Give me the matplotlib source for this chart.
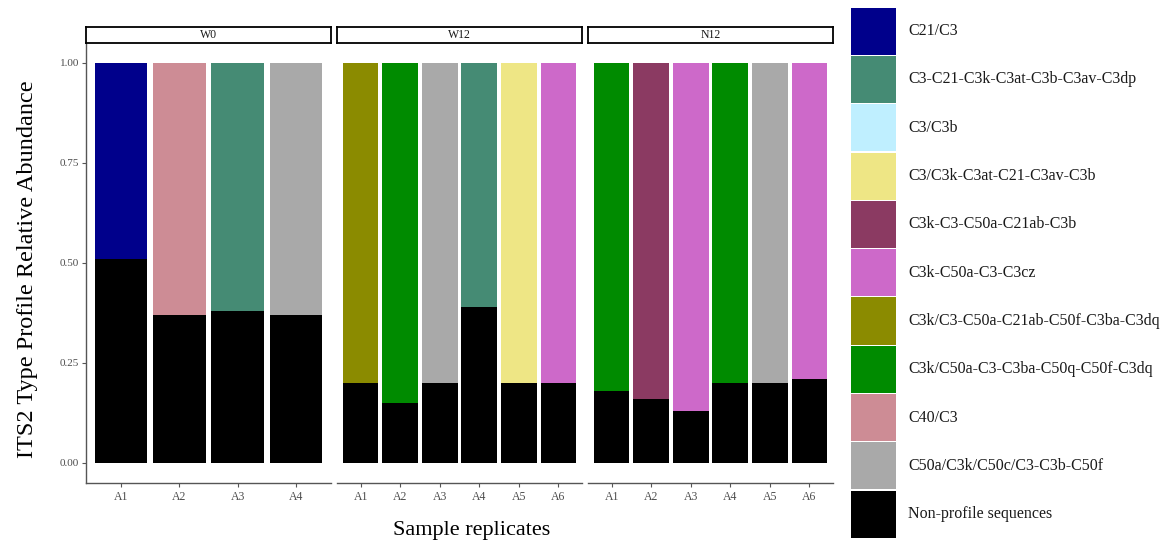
import matplotlib
matplotlib.use("Agg")
import matplotlib.pyplot as plt
from matplotlib.patches import Rectangle

plt.rcParams['font.family'] = ['Liberation Serif', 'DejaVu Serif']

# ---------------- data ----------------
profiles = [
    "C21/C3",
    "C3-C21-C3k-C3at-C3b-C3av-C3dp",
    "C3/C3b",
    "C3/C3k-C3at-C21-C3av-C3b",
    "C3k-C3-C50a-C21ab-C3b",
    "C3k-C50a-C3-C3cz",
    "C3k/C3-C50a-C21ab-C50f-C3ba-C3dq",
    "C3k/C50a-C3-C3ba-C50q-C50f-C3dq",
    "C40/C3",
    "C50a/C3k/C50c/C3-C3b-C50f",
    "Non-profile sequences",
]
profile_colors = [
    "#00008B", "#458B74", "#BFEFFF", "#EEE685", "#8B3A62", "#CD69C9",
    "#8B8B00", "#008B00", "#CD8C95", "#A9A9A9", "#000000",
]

groups = ["W0", "W12", "N12"]
w0_samples = ["A1", "A2", "A3", "A4"]
w12_samples = ["A1", "A2", "A3", "A4", "A5", "A6"]
n12_samples = ["A1", "A2", "A3", "A4", "A5", "A6"]

# non-profile fraction (bottom, black) per sample
w0_nonprofile = [0.51, 0.37, 0.38, 0.37]
w12_nonprofile = [0.20, 0.15, 0.20, 0.39, 0.20, 0.20]
n12_nonprofile = [0.18, 0.16, 0.13, 0.20, 0.20, 0.21]

# dominant profile (index into profiles) per sample
w0_profile = [0, 8, 1, 9]
w12_profile = [6, 7, 9, 1, 3, 5]
n12_profile = [7, 4, 5, 7, 9, 5]

group_samples = [w0_samples, w12_samples, n12_samples]
group_nonprofile = [w0_nonprofile, w12_nonprofile, n12_nonprofile]
group_profile = [w0_profile, w12_profile, n12_profile]

# ---------------- figure ----------------
W, H = 1169, 549
fig = plt.figure(figsize=(W / 100, H / 100), dpi=100)

def ax_px(x0, y0, x1, y1):
    return fig.add_axes([x0 / W, 1 - y1 / H, (x1 - x0) / W, (y1 - y0) / H])

panel_x = [(86, 331), (337, 582), (588, 833)]
ptop, pbot = 43, 483
strip_top = 27
tick_color = "#4D4D4D"
axis_color = "#555555"

for gi, (x0, x1) in enumerate(panel_x):
    ax = ax_px(x0, ptop, x1, pbot)
    samples = group_samples[gi]
    n = len(samples)
    xs = list(range(n))
    nonp = group_nonprofile[gi]
    prof = group_profile[gi]
    rest = [1 - v for v in nonp]
    ax.bar(xs, nonp, width=0.9, color="#000000", edgecolor="none")
    ax.bar(xs, rest, bottom=nonp, width=0.9,
           color=[profile_colors[p] for p in prof], edgecolor="none")
    ax.set_xlim(-0.6, n - 1 + 0.6)
    ax.set_ylim(-0.05, 1.05)
    ax.set_xticks(xs)
    ax.set_xticklabels(samples)
    for s in ["top", "right"]:
        ax.spines[s].set_visible(False)
    ax.spines["bottom"].set_color(axis_color)
    ax.spines["bottom"].set_linewidth(1.0)
    ax.tick_params(axis="x", length=3, width=0.8, color=axis_color,
                   labelsize=8.5, labelcolor=tick_color, pad=3)
    if gi == 0:
        ax.spines["left"].set_color(axis_color)
        ax.spines["left"].set_linewidth(1.0)
        ax.set_yticks([0, 0.25, 0.5, 0.75, 1.0])
        ax.set_yticklabels(["0.00", "0.25", "0.50", "0.75", "1.00"])
        ax.tick_params(axis="y", length=3, width=0.8, color=axis_color,
                       labelsize=8, labelcolor=tick_color, pad=2)
    else:
        ax.spines["left"].set_visible(False)
        ax.set_yticks([])
    # strip
    sax = ax_px(x0, strip_top, x1, ptop)
    sax.set_xticks([]); sax.set_yticks([])
    for s in sax.spines.values():
        s.set_linewidth(1.3)
        s.set_color("black")
    sax.text(0.5, 0.5, groups[gi], ha="center", va="center", fontsize=8.5,
             color="#1A1A1A", transform=sax.transAxes)

fig.text(28 / W, 1 - 269 / H, "ITS2 Type Profile Relative Abundance",
         rotation=90, ha="center", va="center", fontsize=17.5)
fig.text(472 / W, 1 - 530 / H, "Sample replicates", ha="center",
         va="center", fontsize=16)

# legend
lax = ax_px(845, 0, W, H)
lax.set_xlim(845, W)
lax.set_ylim(H, 0)
lax.axis("off")
ktop, kh = 7, 48.3
for i, (lab, col) in enumerate(zip(profiles, profile_colors)):
    y = ktop + i * kh
    lax.add_patch(Rectangle((851, y + 0.6), 45, kh - 1.2, facecolor=col,
                            edgecolor="none"))
    lax.text(908, y + kh / 2, lab, ha="left", va="center", fontsize=11.5,
             color="#1A1A1A")

fig.savefig("out.png", dpi=100, facecolor="white")
